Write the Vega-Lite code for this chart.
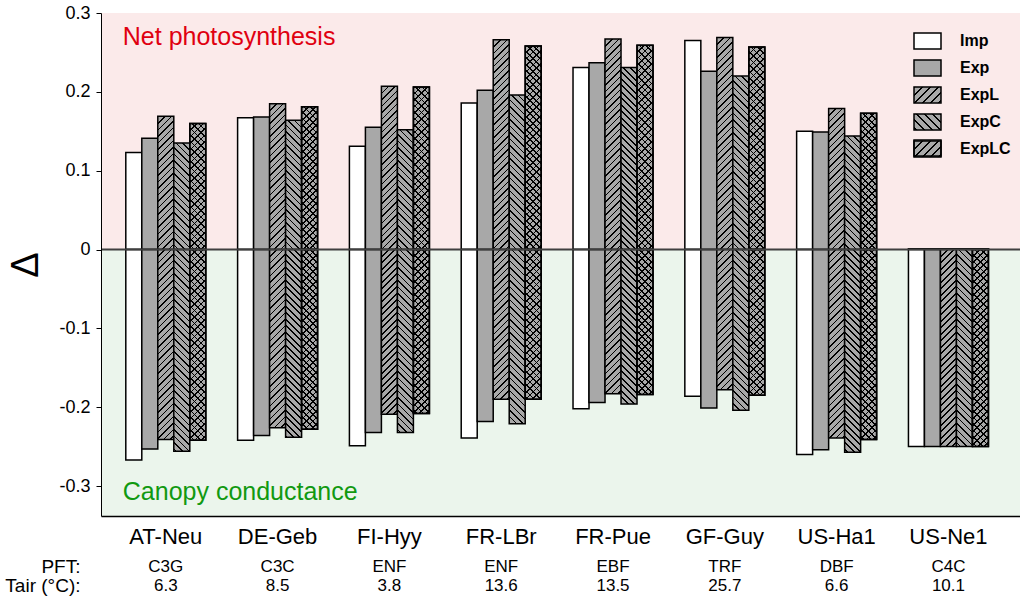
{
"$schema": "https://vega.github.io/schema/vega-lite/v6.json",
"width": 919, "height": 503,
"autosize": {"type": "none"},
"padding": {"left": 101, "top": 13, "right": 0, "bottom": 86},
"background": "white",
"config": {"font": "Liberation Sans", "view": {"stroke": null}},
"params": [
{"name": "gb", "value": [
{"offset":0,"color":"#000"},{"offset":0.00625,"color":"#000"},{"offset":0.00625,"color":"#a8a8a8"},{"offset":0.025,"color":"#a8a8a8"},
{"offset":0.025,"color":"#000"},{"offset":0.03125,"color":"#000"},{"offset":0.03125,"color":"#a8a8a8"},{"offset":0.05,"color":"#a8a8a8"},
{"offset":0.05,"color":"#000"},{"offset":0.05625,"color":"#000"},{"offset":0.05625,"color":"#a8a8a8"},{"offset":0.075,"color":"#a8a8a8"},
{"offset":0.075,"color":"#000"},{"offset":0.08125,"color":"#000"},{"offset":0.08125,"color":"#a8a8a8"},{"offset":0.1,"color":"#a8a8a8"},
{"offset":0.1,"color":"#000"},{"offset":0.10625,"color":"#000"},{"offset":0.10625,"color":"#a8a8a8"},{"offset":0.125,"color":"#a8a8a8"},
{"offset":0.125,"color":"#000"},{"offset":0.13125,"color":"#000"},{"offset":0.13125,"color":"#a8a8a8"},{"offset":0.15,"color":"#a8a8a8"},
{"offset":0.15,"color":"#000"},{"offset":0.15625,"color":"#000"},{"offset":0.15625,"color":"#a8a8a8"},{"offset":0.175,"color":"#a8a8a8"},
{"offset":0.175,"color":"#000"},{"offset":0.18125,"color":"#000"},{"offset":0.18125,"color":"#a8a8a8"},{"offset":0.2,"color":"#a8a8a8"},
{"offset":0.2,"color":"#000"},{"offset":0.20625,"color":"#000"},{"offset":0.20625,"color":"#a8a8a8"},{"offset":0.225,"color":"#a8a8a8"},
{"offset":0.225,"color":"#000"},{"offset":0.23125,"color":"#000"},{"offset":0.23125,"color":"#a8a8a8"},{"offset":0.25,"color":"#a8a8a8"},
{"offset":0.25,"color":"#000"},{"offset":0.25625,"color":"#000"},{"offset":0.25625,"color":"#a8a8a8"},{"offset":0.275,"color":"#a8a8a8"},
{"offset":0.275,"color":"#000"},{"offset":0.28125,"color":"#000"},{"offset":0.28125,"color":"#a8a8a8"},{"offset":0.3,"color":"#a8a8a8"},
{"offset":0.3,"color":"#000"},{"offset":0.30625,"color":"#000"},{"offset":0.30625,"color":"#a8a8a8"},{"offset":0.325,"color":"#a8a8a8"},
{"offset":0.325,"color":"#000"},{"offset":0.33125,"color":"#000"},{"offset":0.33125,"color":"#a8a8a8"},{"offset":0.35,"color":"#a8a8a8"},
{"offset":0.35,"color":"#000"},{"offset":0.35625,"color":"#000"},{"offset":0.35625,"color":"#a8a8a8"},{"offset":0.375,"color":"#a8a8a8"},
{"offset":0.375,"color":"#000"},{"offset":0.38125,"color":"#000"},{"offset":0.38125,"color":"#a8a8a8"},{"offset":0.4,"color":"#a8a8a8"},
{"offset":0.4,"color":"#000"},{"offset":0.40625,"color":"#000"},{"offset":0.40625,"color":"#a8a8a8"},{"offset":0.425,"color":"#a8a8a8"},
{"offset":0.425,"color":"#000"},{"offset":0.43125,"color":"#000"},{"offset":0.43125,"color":"#a8a8a8"},{"offset":0.45,"color":"#a8a8a8"},
{"offset":0.45,"color":"#000"},{"offset":0.45625,"color":"#000"},{"offset":0.45625,"color":"#a8a8a8"},{"offset":0.475,"color":"#a8a8a8"},
{"offset":0.475,"color":"#000"},{"offset":0.48125,"color":"#000"},{"offset":0.48125,"color":"#a8a8a8"},{"offset":0.5,"color":"#a8a8a8"},
{"offset":0.5,"color":"#000"},{"offset":0.50625,"color":"#000"},{"offset":0.50625,"color":"#a8a8a8"},{"offset":0.525,"color":"#a8a8a8"},
{"offset":0.525,"color":"#000"},{"offset":0.53125,"color":"#000"},{"offset":0.53125,"color":"#a8a8a8"},{"offset":0.55,"color":"#a8a8a8"},
{"offset":0.55,"color":"#000"},{"offset":0.55625,"color":"#000"},{"offset":0.55625,"color":"#a8a8a8"},{"offset":0.575,"color":"#a8a8a8"},
{"offset":0.575,"color":"#000"},{"offset":0.58125,"color":"#000"},{"offset":0.58125,"color":"#a8a8a8"},{"offset":0.6,"color":"#a8a8a8"},
{"offset":0.6,"color":"#000"},{"offset":0.60625,"color":"#000"},{"offset":0.60625,"color":"#a8a8a8"},{"offset":0.625,"color":"#a8a8a8"},
{"offset":0.625,"color":"#000"},{"offset":0.63125,"color":"#000"},{"offset":0.63125,"color":"#a8a8a8"},{"offset":0.65,"color":"#a8a8a8"},
{"offset":0.65,"color":"#000"},{"offset":0.65625,"color":"#000"},{"offset":0.65625,"color":"#a8a8a8"},{"offset":0.675,"color":"#a8a8a8"},
{"offset":0.675,"color":"#000"},{"offset":0.68125,"color":"#000"},{"offset":0.68125,"color":"#a8a8a8"},{"offset":0.7,"color":"#a8a8a8"},
{"offset":0.7,"color":"#000"},{"offset":0.70625,"color":"#000"},{"offset":0.70625,"color":"#a8a8a8"},{"offset":0.725,"color":"#a8a8a8"},
{"offset":0.725,"color":"#000"},{"offset":0.73125,"color":"#000"},{"offset":0.73125,"color":"#a8a8a8"},{"offset":0.75,"color":"#a8a8a8"},
{"offset":0.75,"color":"#000"},{"offset":0.75625,"color":"#000"},{"offset":0.75625,"color":"#a8a8a8"},{"offset":0.775,"color":"#a8a8a8"},
{"offset":0.775,"color":"#000"},{"offset":0.78125,"color":"#000"},{"offset":0.78125,"color":"#a8a8a8"},{"offset":0.8,"color":"#a8a8a8"},
{"offset":0.8,"color":"#000"},{"offset":0.80625,"color":"#000"},{"offset":0.80625,"color":"#a8a8a8"},{"offset":0.825,"color":"#a8a8a8"},
{"offset":0.825,"color":"#000"},{"offset":0.83125,"color":"#000"},{"offset":0.83125,"color":"#a8a8a8"},{"offset":0.85,"color":"#a8a8a8"},
{"offset":0.85,"color":"#000"},{"offset":0.85625,"color":"#000"},{"offset":0.85625,"color":"#a8a8a8"},{"offset":0.875,"color":"#a8a8a8"},
{"offset":0.875,"color":"#000"},{"offset":0.88125,"color":"#000"},{"offset":0.88125,"color":"#a8a8a8"},{"offset":0.9,"color":"#a8a8a8"},
{"offset":0.9,"color":"#000"},{"offset":0.90625,"color":"#000"},{"offset":0.90625,"color":"#a8a8a8"},{"offset":1,"color":"#a8a8a8"}
]},
{"name": "gt", "value": [
{"offset":0,"color":"#000"},{"offset":0.00625,"color":"#000"},{"offset":0.00625,"color":"transparent"},{"offset":0.025,"color":"transparent"},
{"offset":0.025,"color":"#000"},{"offset":0.03125,"color":"#000"},{"offset":0.03125,"color":"transparent"},{"offset":0.05,"color":"transparent"},
{"offset":0.05,"color":"#000"},{"offset":0.05625,"color":"#000"},{"offset":0.05625,"color":"transparent"},{"offset":0.075,"color":"transparent"},
{"offset":0.075,"color":"#000"},{"offset":0.08125,"color":"#000"},{"offset":0.08125,"color":"transparent"},{"offset":0.1,"color":"transparent"},
{"offset":0.1,"color":"#000"},{"offset":0.10625,"color":"#000"},{"offset":0.10625,"color":"transparent"},{"offset":0.125,"color":"transparent"},
{"offset":0.125,"color":"#000"},{"offset":0.13125,"color":"#000"},{"offset":0.13125,"color":"transparent"},{"offset":0.15,"color":"transparent"},
{"offset":0.15,"color":"#000"},{"offset":0.15625,"color":"#000"},{"offset":0.15625,"color":"transparent"},{"offset":0.175,"color":"transparent"},
{"offset":0.175,"color":"#000"},{"offset":0.18125,"color":"#000"},{"offset":0.18125,"color":"transparent"},{"offset":0.2,"color":"transparent"},
{"offset":0.2,"color":"#000"},{"offset":0.20625,"color":"#000"},{"offset":0.20625,"color":"transparent"},{"offset":0.225,"color":"transparent"},
{"offset":0.225,"color":"#000"},{"offset":0.23125,"color":"#000"},{"offset":0.23125,"color":"transparent"},{"offset":0.25,"color":"transparent"},
{"offset":0.25,"color":"#000"},{"offset":0.25625,"color":"#000"},{"offset":0.25625,"color":"transparent"},{"offset":0.275,"color":"transparent"},
{"offset":0.275,"color":"#000"},{"offset":0.28125,"color":"#000"},{"offset":0.28125,"color":"transparent"},{"offset":0.3,"color":"transparent"},
{"offset":0.3,"color":"#000"},{"offset":0.30625,"color":"#000"},{"offset":0.30625,"color":"transparent"},{"offset":0.325,"color":"transparent"},
{"offset":0.325,"color":"#000"},{"offset":0.33125,"color":"#000"},{"offset":0.33125,"color":"transparent"},{"offset":0.35,"color":"transparent"},
{"offset":0.35,"color":"#000"},{"offset":0.35625,"color":"#000"},{"offset":0.35625,"color":"transparent"},{"offset":0.375,"color":"transparent"},
{"offset":0.375,"color":"#000"},{"offset":0.38125,"color":"#000"},{"offset":0.38125,"color":"transparent"},{"offset":0.4,"color":"transparent"},
{"offset":0.4,"color":"#000"},{"offset":0.40625,"color":"#000"},{"offset":0.40625,"color":"transparent"},{"offset":0.425,"color":"transparent"},
{"offset":0.425,"color":"#000"},{"offset":0.43125,"color":"#000"},{"offset":0.43125,"color":"transparent"},{"offset":0.45,"color":"transparent"},
{"offset":0.45,"color":"#000"},{"offset":0.45625,"color":"#000"},{"offset":0.45625,"color":"transparent"},{"offset":0.475,"color":"transparent"},
{"offset":0.475,"color":"#000"},{"offset":0.48125,"color":"#000"},{"offset":0.48125,"color":"transparent"},{"offset":0.5,"color":"transparent"},
{"offset":0.5,"color":"#000"},{"offset":0.50625,"color":"#000"},{"offset":0.50625,"color":"transparent"},{"offset":0.525,"color":"transparent"},
{"offset":0.525,"color":"#000"},{"offset":0.53125,"color":"#000"},{"offset":0.53125,"color":"transparent"},{"offset":0.55,"color":"transparent"},
{"offset":0.55,"color":"#000"},{"offset":0.55625,"color":"#000"},{"offset":0.55625,"color":"transparent"},{"offset":0.575,"color":"transparent"},
{"offset":0.575,"color":"#000"},{"offset":0.58125,"color":"#000"},{"offset":0.58125,"color":"transparent"},{"offset":0.6,"color":"transparent"},
{"offset":0.6,"color":"#000"},{"offset":0.60625,"color":"#000"},{"offset":0.60625,"color":"transparent"},{"offset":0.625,"color":"transparent"},
{"offset":0.625,"color":"#000"},{"offset":0.63125,"color":"#000"},{"offset":0.63125,"color":"transparent"},{"offset":0.65,"color":"transparent"},
{"offset":0.65,"color":"#000"},{"offset":0.65625,"color":"#000"},{"offset":0.65625,"color":"transparent"},{"offset":0.675,"color":"transparent"},
{"offset":0.675,"color":"#000"},{"offset":0.68125,"color":"#000"},{"offset":0.68125,"color":"transparent"},{"offset":0.7,"color":"transparent"},
{"offset":0.7,"color":"#000"},{"offset":0.70625,"color":"#000"},{"offset":0.70625,"color":"transparent"},{"offset":0.725,"color":"transparent"},
{"offset":0.725,"color":"#000"},{"offset":0.73125,"color":"#000"},{"offset":0.73125,"color":"transparent"},{"offset":0.75,"color":"transparent"},
{"offset":0.75,"color":"#000"},{"offset":0.75625,"color":"#000"},{"offset":0.75625,"color":"transparent"},{"offset":0.775,"color":"transparent"},
{"offset":0.775,"color":"#000"},{"offset":0.78125,"color":"#000"},{"offset":0.78125,"color":"transparent"},{"offset":0.8,"color":"transparent"},
{"offset":0.8,"color":"#000"},{"offset":0.80625,"color":"#000"},{"offset":0.80625,"color":"transparent"},{"offset":0.825,"color":"transparent"},
{"offset":0.825,"color":"#000"},{"offset":0.83125,"color":"#000"},{"offset":0.83125,"color":"transparent"},{"offset":0.85,"color":"transparent"},
{"offset":0.85,"color":"#000"},{"offset":0.85625,"color":"#000"},{"offset":0.85625,"color":"transparent"},{"offset":0.875,"color":"transparent"},
{"offset":0.875,"color":"#000"},{"offset":0.88125,"color":"#000"},{"offset":0.88125,"color":"transparent"},{"offset":0.9,"color":"transparent"},
{"offset":0.9,"color":"#000"},{"offset":0.90625,"color":"#000"},{"offset":0.90625,"color":"transparent"},{"offset":1,"color":"transparent"}
]}
],
"datasets": {
"bars": [
{"site":"AT-Neu","series":"Imp","value":0.123},{"site":"AT-Neu","series":"Imp","value":-0.267},
{"site":"AT-Neu","series":"Exp","value":0.141},{"site":"AT-Neu","series":"Exp","value":-0.253},
{"site":"AT-Neu","series":"ExpL","value":0.169},{"site":"AT-Neu","series":"ExpL","value":-0.241},
{"site":"AT-Neu","series":"ExpC","value":0.135},{"site":"AT-Neu","series":"ExpC","value":-0.256},
{"site":"AT-Neu","series":"ExpLC","value":0.160},{"site":"AT-Neu","series":"ExpLC","value":-0.242},
{"site":"DE-Geb","series":"Imp","value":0.167},{"site":"DE-Geb","series":"Imp","value":-0.242},
{"site":"DE-Geb","series":"Exp","value":0.168},{"site":"DE-Geb","series":"Exp","value":-0.236},
{"site":"DE-Geb","series":"ExpL","value":0.185},{"site":"DE-Geb","series":"ExpL","value":-0.226},
{"site":"DE-Geb","series":"ExpC","value":0.164},{"site":"DE-Geb","series":"ExpC","value":-0.238},
{"site":"DE-Geb","series":"ExpLC","value":0.181},{"site":"DE-Geb","series":"ExpLC","value":-0.228},
{"site":"FI-Hyy","series":"Imp","value":0.131},{"site":"FI-Hyy","series":"Imp","value":-0.249},
{"site":"FI-Hyy","series":"Exp","value":0.155},{"site":"FI-Hyy","series":"Exp","value":-0.232},
{"site":"FI-Hyy","series":"ExpL","value":0.207},{"site":"FI-Hyy","series":"ExpL","value":-0.209},
{"site":"FI-Hyy","series":"ExpC","value":0.152},{"site":"FI-Hyy","series":"ExpC","value":-0.232},
{"site":"FI-Hyy","series":"ExpLC","value":0.206},{"site":"FI-Hyy","series":"ExpLC","value":-0.208},
{"site":"FR-LBr","series":"Imp","value":0.186},{"site":"FR-LBr","series":"Imp","value":-0.239},
{"site":"FR-LBr","series":"Exp","value":0.202},{"site":"FR-LBr","series":"Exp","value":-0.218},
{"site":"FR-LBr","series":"ExpL","value":0.266},{"site":"FR-LBr","series":"ExpL","value":-0.190},
{"site":"FR-LBr","series":"ExpC","value":0.196},{"site":"FR-LBr","series":"ExpC","value":-0.221},
{"site":"FR-LBr","series":"ExpLC","value":0.258},{"site":"FR-LBr","series":"ExpLC","value":-0.190},
{"site":"FR-Pue","series":"Imp","value":0.231},{"site":"FR-Pue","series":"Imp","value":-0.202},
{"site":"FR-Pue","series":"Exp","value":0.237},{"site":"FR-Pue","series":"Exp","value":-0.194},
{"site":"FR-Pue","series":"ExpL","value":0.267},{"site":"FR-Pue","series":"ExpL","value":-0.183},
{"site":"FR-Pue","series":"ExpC","value":0.231},{"site":"FR-Pue","series":"ExpC","value":-0.196},
{"site":"FR-Pue","series":"ExpLC","value":0.259},{"site":"FR-Pue","series":"ExpLC","value":-0.184},
{"site":"GF-Guy","series":"Imp","value":0.265},{"site":"GF-Guy","series":"Imp","value":-0.186},
{"site":"GF-Guy","series":"Exp","value":0.226},{"site":"GF-Guy","series":"Exp","value":-0.201},
{"site":"GF-Guy","series":"ExpL","value":0.269},{"site":"GF-Guy","series":"ExpL","value":-0.178},
{"site":"GF-Guy","series":"ExpC","value":0.220},{"site":"GF-Guy","series":"ExpC","value":-0.204},
{"site":"GF-Guy","series":"ExpLC","value":0.257},{"site":"GF-Guy","series":"ExpLC","value":-0.185},
{"site":"US-Ha1","series":"Imp","value":0.150},{"site":"US-Ha1","series":"Imp","value":-0.260},
{"site":"US-Ha1","series":"Exp","value":0.149},{"site":"US-Ha1","series":"Exp","value":-0.254},
{"site":"US-Ha1","series":"ExpL","value":0.179},{"site":"US-Ha1","series":"ExpL","value":-0.239},
{"site":"US-Ha1","series":"ExpC","value":0.144},{"site":"US-Ha1","series":"ExpC","value":-0.257},
{"site":"US-Ha1","series":"ExpLC","value":0.173},{"site":"US-Ha1","series":"ExpLC","value":-0.241},
{"site":"US-Ne1","series":"Imp","value":0.001},{"site":"US-Ne1","series":"Imp","value":-0.250},
{"site":"US-Ne1","series":"Exp","value":0.001},{"site":"US-Ne1","series":"Exp","value":-0.250},
{"site":"US-Ne1","series":"ExpL","value":0.001},{"site":"US-Ne1","series":"ExpL","value":-0.250},
{"site":"US-Ne1","series":"ExpC","value":0.001},{"site":"US-Ne1","series":"ExpC","value":-0.250},
{"site":"US-Ne1","series":"ExpLC","value":0.001},{"site":"US-Ne1","series":"ExpLC","value":-0.250}
],
"sites": [
{"site":"AT-Neu","pft":"C3G","tair":"6.3"},
{"site":"DE-Geb","pft":"C3C","tair":"8.5"},
{"site":"FI-Hyy","pft":"ENF","tair":"3.8"},
{"site":"FR-LBr","pft":"ENF","tair":"13.6"},
{"site":"FR-Pue","pft":"EBF","tair":"13.5"},
{"site":"GF-Guy","pft":"TRF","tair":"25.7"},
{"site":"US-Ha1","pft":"DBF","tair":"6.6"},
{"site":"US-Ne1","pft":"C4C","tair":"10.1"}
]
},
"layer": [
{
"data": {"values": [{}]},
"mark": {"type": "rect", "fill": "#fbeaea"},
"encoding": {
"y": {"datum": 0, "type": "quantitative", "scale": {"domain": [-0.338, 0.3], "nice": false, "zero": false},
"axis": {"title": "Δ", "titleFontSize": 38, "titleFontWeight": "normal", "titleColor": "#000", "titlePadding": 13,
"values": [-0.3, -0.2, -0.1, 0, 0.1, 0.2, 0.3],
"labelExpr": "datum.value == 0 ? '0' : (datum.value < 0 ? '-' : '') + format(abs(datum.value), '.1f')",
"labelFontSize": 18, "labelColor": "#000", "labelPadding": 6, "tickSize": 5, "tickColor": "#000", "domainColor": "#000", "grid": false, "zindex": 1}},
"y2": {"datum": 0.3}
}
},
{
"data": {"values": [{}]},
"mark": {"type": "rect", "fill": "#ebf5ec"},
"encoding": {
"y": {"datum": -0.338, "type": "quantitative"},
"y2": {"datum": 0}
}
},
{
"data": {"name": "bars"},
"mark": {"type": "bar", "stroke": "#000", "strokeWidth": 1.5},
"encoding": {
"x": {"field": "site", "type": "nominal",
"scale": {"domain": ["AT-Neu","DE-Geb","FI-Hyy","FR-LBr","FR-Pue","GF-Guy","US-Ha1","US-Ne1"], "paddingInner": 0.2845, "paddingOuter": 0.252, "align": 0.44},
"axis": {"title": ["PFT:", "Tair (°C):"], "titleX": -21, "titleY": 56, "titleAlign": "right", "titleBaseline": "alphabetic", "titleFontSize": 19, "titleFontWeight": "normal", "titleLineHeight": 19, "titleColor": "#000",
"labelFontSize": 22, "labelColor": "#000", "labelAngle": 0, "labelPadding": 10, "ticks": false, "tickSize": 0, "domainColor": "#000", "domainWidth": 1.5, "grid": false, "zindex": 1}},
"xOffset": {"field": "series", "type": "nominal", "scale": {"domain": ["Imp","Exp","ExpL","ExpC","ExpLC"], "paddingInner": 0, "paddingOuter": 0}},
"y": {"field": "value", "type": "quantitative", "stack": null},
"fill": {"field": "series", "type": "nominal",
"scale": {"domain": ["Imp","Exp","ExpL","ExpC","ExpLC"], "range": ["#ffffff","#a8a8a8",
{"expr": "{gradient:'linear', x1:0, y1:0, x2:8.72, y2:5.23, stops:gb}"},
{"expr": "{gradient:'linear', x1:1, y1:0, x2:-7.72, y2:5.23, stops:gb}"},
{"expr": "{gradient:'linear', x1:0, y1:0, x2:8.72, y2:5.23, stops:gb}"}
]},
"condition": {"test": "true", "value": {"expr": "datum.series=='Imp' ? '#ffffff' : datum.series=='Exp' ? '#a8a8a8' : datum.series=='ExpC' ? {gradient:'linear', x1:1, y1:0, x2:1-260*bandwidth('xOffset')/(pow(bandwidth('xOffset'),2)+pow(max(1,abs(scale('y',datum.value)-scale('y',0))),2)), y2:260*max(1,abs(scale('y',datum.value)-scale('y',0)))/(pow(bandwidth('xOffset'),2)+pow(max(1,abs(scale('y',datum.value)-scale('y',0))),2)), stops:gb} : {gradient:'linear', x1:0, y1:0, x2:260*bandwidth('xOffset')/(pow(bandwidth('xOffset'),2)+pow(max(1,abs(scale('y',datum.value)-scale('y',0))),2)), y2:260*max(1,abs(scale('y',datum.value)-scale('y',0)))/(pow(bandwidth('xOffset'),2)+pow(max(1,abs(scale('y',datum.value)-scale('y',0))),2)), stops:gb}"}},
"legend": {"orient": "none", "legendX": 812, "legendY": 13.5, "title": null, "padding": 0,
"symbolType": "M-1,-0.6H1V0.6H-1Z", "symbolSize": 729, "symbolStrokeColor": "#000", "symbolStrokeWidth": 1.5,
"labelFontSize": 16, "labelFontWeight": "bold", "labelColor": "#000", "labelOffset": 18, "rowPadding": 1,
"encode": {"symbols": {"update": {"stroke": {"value": "#000"}, "strokeWidth": {"value": 1.5}, "opacity": {"value": 1}}}}}
}
}
},
{
"data": {"name": "bars"},
"transform": [{"filter": "datum.series == 'ExpLC'"}],
"mark": {"type": "bar", "stroke": "#000", "strokeWidth": 1.5,
"fill": {"expr": "{gradient:'linear', x1:1, y1:0, x2:1-260*bandwidth('xOffset')/(pow(bandwidth('xOffset'),2)+pow(max(1,abs(scale('y',datum.value)-scale('y',0))),2)), y2:260*max(1,abs(scale('y',datum.value)-scale('y',0)))/(pow(bandwidth('xOffset'),2)+pow(max(1,abs(scale('y',datum.value)-scale('y',0))),2)), stops:gt}"}},
"encoding": {
"x": {"field": "site", "type": "nominal"},
"xOffset": {"field": "series", "type": "nominal"},
"y": {"field": "value", "type": "quantitative", "stack": null},
"opacity": {"field": "series", "type": "nominal", "scale": {"domain": ["ExpLC"], "range": [1]},
"legend": {"orient": "none", "legendX": 812, "legendY": 120.5, "title": null, "padding": 0,
"symbolType": "M-1,-0.6H1V0.6H-1Z", "symbolSize": 729, "labelFontSize": 16, "labelFontWeight": "bold", "labelExpr": "''", "labelOffset": 18,
"encode": {"symbols": {"update": {
"fill": {"signal": "{gradient:'linear', x1:1, y1:0, x2:-7.72, y2:5.23, stops:gt}"},
"stroke": {"value": "#000"}, "strokeWidth": {"value": 1.5}, "opacity": {"value": 1}}}}}}
}
},
{
"data": {"values": [{}]},
"mark": {"type": "rule", "color": "#3f3f3f", "strokeWidth": 2},
"encoding": {"y": {"datum": 0, "type": "quantitative"}}
},
{
"data": {"values": [{"label": "Net photosynthesis"}]},
"mark": {"type": "text", "align": "left", "baseline": "alphabetic", "fontSize": 25, "color": "#e00010", "dx": -3},
"encoding": {
"x": {"datum": "AT-Neu", "type": "nominal", "bandPosition": 0},
"y": {"datum": 0.2594, "type": "quantitative"},
"text": {"field": "label"}
}
},
{
"data": {"values": [{"label": "Canopy conductance"}]},
"mark": {"type": "text", "align": "left", "baseline": "alphabetic", "fontSize": 25, "color": "#119911", "dx": -3},
"encoding": {
"x": {"datum": "AT-Neu", "type": "nominal", "bandPosition": 0},
"y": {"datum": -0.3177, "type": "quantitative"},
"text": {"field": "label"}
}
},
{
"data": {"name": "sites"},
"mark": {"type": "text", "align": "center", "baseline": "alphabetic", "fontSize": 17, "color": "#000"},
"encoding": {
"x": {"field": "site", "type": "nominal"},
"y": {"datum": -0.409, "type": "quantitative"},
"text": {"field": "pft"}
}
},
{
"data": {"name": "sites"},
"mark": {"type": "text", "align": "center", "baseline": "alphabetic", "fontSize": 17, "color": "#000"},
"encoding": {
"x": {"field": "site", "type": "nominal"},
"y": {"datum": -0.433, "type": "quantitative"},
"text": {"field": "tair"}
}
}
]
}
